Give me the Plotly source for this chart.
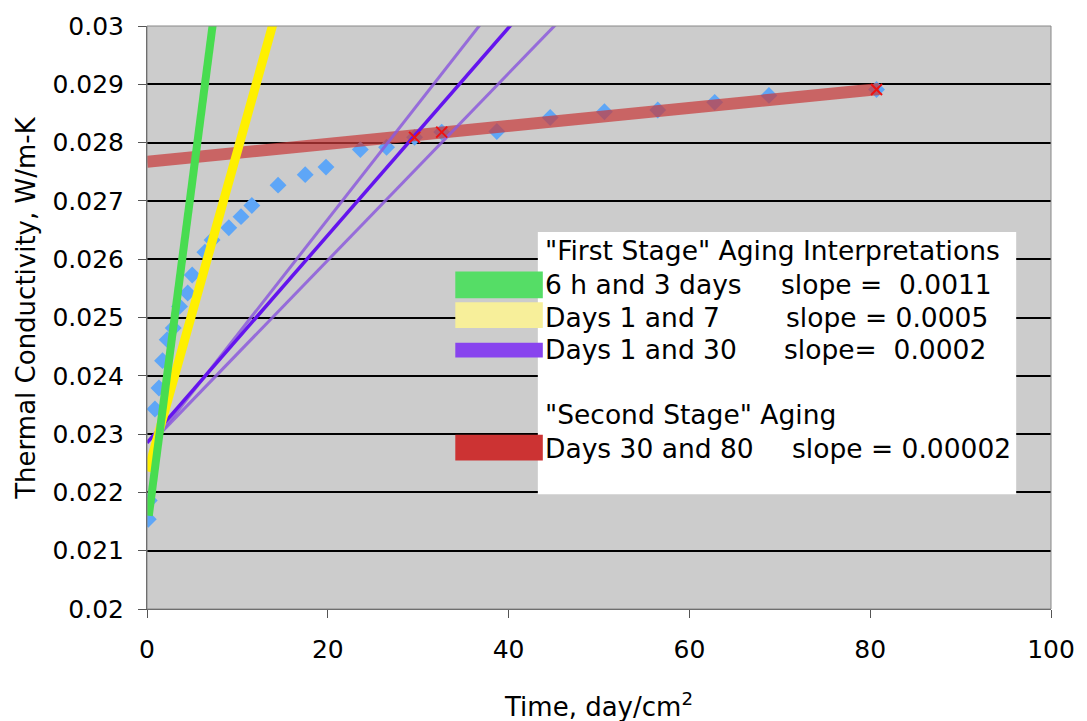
import plotly.graph_objects as go

# Measured thermal conductivity vs. aging time
time = [0.14, 0.25, 0.88, 1.32, 1.72, 2.23, 2.9, 3.6, 4.5, 5.0, 6.4, 7.2, 9.05,
        10.4, 11.6, 14.5, 17.5, 19.8, 23.6, 26.5, 29.6, 32.6, 38.7, 44.6, 50.6,
        56.5, 62.8, 68.8, 80.7]
conductivity = [0.02154, 0.02186, 0.02343, 0.02379, 0.02426, 0.02462, 0.02482,
                0.02519, 0.02542, 0.02573, 0.02612, 0.02633, 0.02654, 0.02673,
                0.02692, 0.02727, 0.02745, 0.02758, 0.02788, 0.02792, 0.02809,
                0.02818, 0.02819, 0.02843, 0.02853, 0.02856, 0.02869, 0.02881,
                0.02891]

# Points used for the second-stage fit
sel_time = [29.6, 32.6, 80.7]
sel_k = [0.02809, 0.02818, 0.02891]

# Fitted aging lines (end points)
green_x, green_y = [0.2, 7.6], [0.0216, 0.03042]
yellow_x, yellow_y = [0.1, 14.5], [0.02236, 0.03035]
purple_x, purple_y = [0.0, 41.0], [0.02285, 0.03015]
purple_hi_x, purple_hi_y = [1.4, 37.5], [0.0230, 0.03015]
purple_lo_x, purple_lo_y = [1.4, 46.0], [0.0230, 0.03015]
red_x, red_y = [0.0, 81.0], [0.02767, 0.02892]

y_ticks = [0.02, 0.021, 0.022, 0.023, 0.024, 0.025, 0.026, 0.027, 0.028, 0.029, 0.03]
y_tick_text = ["0.02", "0.021", "0.022", "0.023", "0.024", "0.025", "0.026",
               "0.027", "0.028", "0.029", "0.03"]
x_ticks = [0, 20, 40, 60, 80, 100]

legend_title_1 = '"First Stage" Aging Interpretations'
legend_title_2 = '"Second Stage" Aging'
legend_rows = [
    ("6 h and 3 days", "slope =  0.0011", "#55dd66", 268, 295, 281, 782),
    ("Days 1 and 7", "slope = 0.0005", "#f7ef9a", 299, 325, 314, 788),
    ("Days 1 and 30", "slope=  0.0002", "#8844ee", 340, 355, 347, 786),
    ("Days 30 and 80", "slope = 0.00002", "#cc3333", 433, 459, 447, 794),
]

FONT = "DejaVu Sans"
W, H = 1087, 721
L, R, T, B = 147, 1056, 20, 609


def px(x):
    return (x - L) / (R - L)


def py(y):
    return (B - y) / (B - T)


fig = go.Figure()

fig.add_trace(go.Scatter(x=time, y=conductivity, mode="markers",
                         marker=dict(symbol="diamond", size=13, color="#5ea6f7"),
                         hoverinfo="skip"))
fig.add_trace(go.Scatter(x=red_x, y=red_y, mode="lines",
                         line=dict(color="rgba(200,60,60,0.72)", width=12)))
fig.add_trace(go.Scatter(x=purple_hi_x, y=purple_hi_y, mode="lines",
                         line=dict(color="rgba(140,90,220,0.85)", width=3)))
fig.add_trace(go.Scatter(x=purple_lo_x, y=purple_lo_y, mode="lines",
                         line=dict(color="rgba(140,90,220,0.85)", width=3)))
fig.add_trace(go.Scatter(x=purple_x, y=purple_y, mode="lines",
                         line=dict(color="#6414ee", width=3.5)))
fig.add_trace(go.Scatter(x=yellow_x, y=yellow_y, mode="lines",
                         line=dict(color="#fff000", width=9)))
fig.add_trace(go.Scatter(x=green_x, y=green_y, mode="lines",
                         line=dict(color="#48dc50", width=8)))
fig.add_trace(go.Scatter(x=sel_time, y=sel_k, mode="markers",
                         marker=dict(symbol="x-thin", size=11, color="#ee1111",
                                     line=dict(color="#ee1111", width=2))))

shapes = [
    # border around the plotting area
    dict(type="rect", xref="paper", yref="paper", x0=0, x1=1, y0=0, y1=1,
         line=dict(color="#888888", width=1), layer="above"),
    # legend box
    dict(type="rect", xref="paper", yref="paper", x0=px(540), x1=px(1021),
         y0=py(493), y1=py(228), fillcolor="white", line=dict(width=0),
         layer="above"),
]
annotations = [
    dict(text=legend_title_1, x=px(545), y=py(247)),
    dict(text=legend_title_2, x=px(545), y=py(413)),
]
for label, slope, color, top, bottom, yc, sx in legend_rows:
    shapes.append(dict(type="rect", xref="paper", yref="paper", x0=px(457),
                       x1=px(545), y0=py(bottom), y1=py(top), fillcolor=color,
                       line=dict(width=0), layer="above"))
    annotations.append(dict(text=label, x=px(545), y=py(yc)))
    annotations.append(dict(text=slope, x=px(sx), y=py(yc)))

for a in annotations:
    a.update(xref="paper", yref="paper", xanchor="left", yanchor="middle",
             showarrow=False, font=dict(family=FONT, size=26.5, color="black"))

# axis titles
annotations.append(dict(text="Time, day/cm<sup>2</sup>", xref="paper", yref="paper",
                        x=px(601), y=py(706), xanchor="center", yanchor="middle",
                        showarrow=False, font=dict(family=FONT, size=26, color="black")))
annotations.append(dict(text="Thermal Conductivity, W/m-K", xref="paper", yref="paper",
                        x=px(25), y=py(305), xanchor="center", yanchor="middle",
                        textangle=-90, showarrow=False,
                        font=dict(family=FONT, size=26, color="black")))

fig.update_layout(
    width=W, height=H,
    margin=dict(l=L, r=W - R, t=T, b=H - B),
    paper_bgcolor="white", plot_bgcolor="#cccccc",
    showlegend=False,
    shapes=shapes, annotations=annotations,
    font=dict(family=FONT, size=25, color="black"),
)
fig.update_xaxes(range=[0, 100], tickvals=x_ticks, ticks="outside", ticklen=8,
                 tickcolor="#555555", showgrid=False, zeroline=False,
                 showline=True, linecolor="#555555", linewidth=1,
                 ticklabelstandoff=10, tickfont=dict(family=FONT, size=25))
fig.update_yaxes(range=[0.02, 0.03], tickvals=y_ticks, ticktext=y_tick_text,
                 ticks="outside", ticklen=8, tickcolor="#555555",
                 showgrid=True, gridcolor="black", gridwidth=1.6, zeroline=False,
                 showline=True, linecolor="#555555", linewidth=1,
                 ticklabelstandoff=9, tickfont=dict(family=FONT, size=25))

fig.write_html("out.html")
